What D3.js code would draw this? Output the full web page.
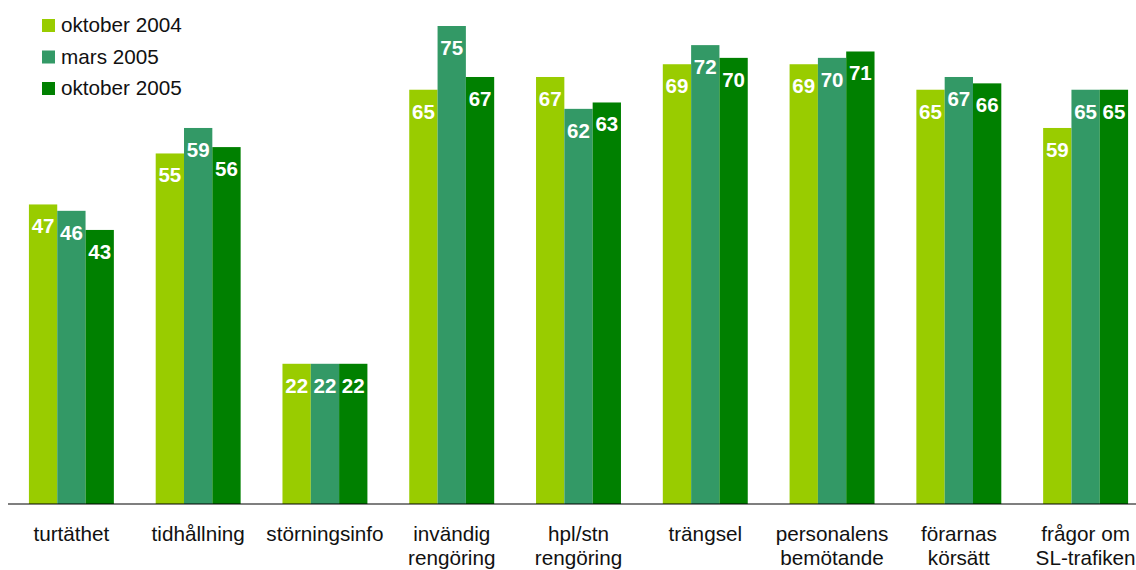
<!DOCTYPE html>
<html>
<head>
<meta charset="utf-8">
<script src="https://cdn.jsdelivr.net/npm/d3@7"></script>
<style>
  html, body { margin: 0; padding: 0; background: #fff; }
  svg { display: block; }
  text { font-family: "Liberation Sans", Arial, sans-serif; }
</style>
</head>
<body>
<svg id="chart" width="1136" height="570"></svg>
<script>
const categories = [
  ["turtäthet"],
  ["tidhållning"],
  ["störningsinfo"],
  ["invändig", "rengöring"],
  ["hpl/stn", "rengöring"],
  ["trängsel"],
  ["personalens", "bemötande"],
  ["förarnas", "körsätt"],
  ["frågor om", "SL-trafiken"]
];
const seriesNames = ["oktober 2004", "mars 2005", "oktober 2005"];
const okt2004 = [47, 55, 22, 65, 67, 69, 69, 65, 59];
const mars2005 = [46, 59, 22, 75, 62, 72, 70, 67, 65];
const okt2005 = [43, 56, 22, 67, 63, 70, 71, 66, 65];
const colors = ["#99cc00", "#339966", "#008000"];

const series = [okt2004, mars2005, okt2005];
const width = 1136, height = 570;
const baseY = 504;

const svg = d3.select("#chart");

const x = d3.scaleBand()
  .domain(d3.range(categories.length))
  .range([8, 1149])
  .paddingInner(0.33)
  .paddingOuter(0.165);

const xs = d3.scaleBand()
  .domain(d3.range(series.length))
  .range([0, x.bandwidth()]);

const y = d3.scaleLinear().domain([0, 75]).range([baseY, 26]);

// bars
const groups = svg.append("g")
  .selectAll("g")
  .data(categories)
  .join("g")
  .attr("transform", (d, i) => `translate(${x(i)},0)`);

groups.each(function (c, i) {
  const g = d3.select(this);
  const vals = series.map((s, k) => ({ k: k, v: s[i] }));
  g.selectAll("rect")
    .data(vals)
    .join("rect")
    .attr("x", d => xs(d.k))
    .attr("y", d => y(d.v))
    .attr("width", xs.bandwidth())
    .attr("height", d => baseY - y(d.v))
    .attr("fill", d => colors[d.k]);
  g.selectAll("text.val")
    .data(vals)
    .join("text")
    .attr("class", "val")
    .attr("x", d => xs(d.k) + xs.bandwidth() / 2)
    .attr("y", d => y(d.v) + 29)
    .attr("text-anchor", "middle")
    .attr("fill", "#fff")
    .attr("font-weight", "bold")
    .attr("font-size", 20.5)
    .text(d => d.v);
});

// baseline
svg.append("line")
  .attr("x1", 8).attr("x2", width)
  .attr("y1", baseY).attr("y2", baseY)
  .attr("stroke", "#000")
  .attr("stroke-opacity", 0.5)
  .attr("stroke-width", 2);

// category labels
svg.append("g")
  .selectAll("text")
  .data(categories)
  .join("text")
  .attr("text-anchor", "middle")
  .attr("font-size", 20.7)
  .attr("fill", "#111")
  .attr("transform", (d, i) => `translate(${x(i) + x.bandwidth() / 2},541)`)
  .selectAll("tspan")
  .data(d => d)
  .join("tspan")
  .attr("x", 0)
  .attr("y", (d, j) => j * 24)
  .text(d => d);

// legend
const leg = svg.append("g")
  .selectAll("g")
  .data(seriesNames)
  .join("g")
  .attr("transform", (d, i) => `translate(42,${19 + i * 31.5})`);
leg.append("rect")
  .attr("width", 13).attr("height", 13)
  .attr("fill", (d, i) => colors[i]);
leg.append("text")
  .attr("x", 19).attr("y", 13)
  .attr("font-size", 20.7)
  .attr("fill", "#111")
  .text(d => d);
</script>
</body>
</html>
